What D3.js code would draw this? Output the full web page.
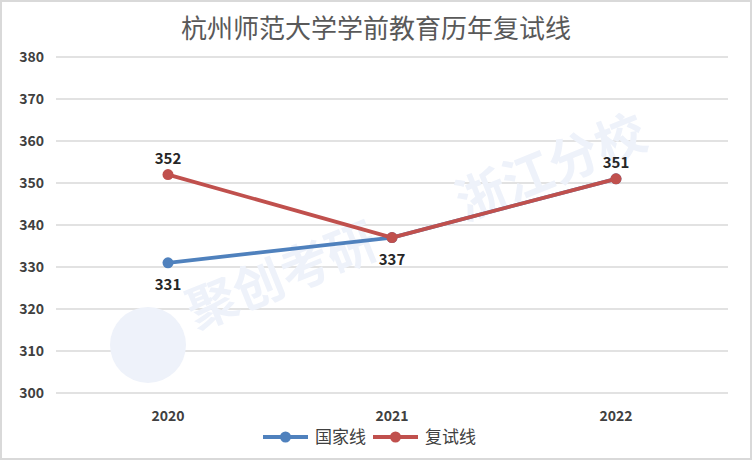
<!DOCTYPE html>
<html>
<head>
<meta charset="utf-8">
<script src="https://cdn.jsdelivr.net/npm/d3@7"></script>
<style>
  body { margin: 0; background: #fff; }
  svg { display: block; }
</style>
</head>
<body>
<svg id="chart" width="752" height="460"></svg>
<script>
// Data
const years = ["2020", "2021", "2022"];
const guojiaxian = [331, 337, 351];
const fushixian = [352, 337, 351];
const yTicks = [300, 310, 320, 330, 340, 350, 360, 370, 380];
const title = "杭州师范大学学前教育历年复试线";

const W = 752, H = 460;
const svg = d3.select("#chart");
const FONT = "'Noto Sans CJK SC', 'Noto Sans', sans-serif";

// outer frame
svg.append("rect")
  .attr("x", 1).attr("y", 1)
  .attr("width", W - 2).attr("height", H - 2)
  .attr("fill", "#fff")
  .attr("stroke", "#d9d9d9")
  .attr("stroke-width", 2);

const x = d3.scaleBand().domain(years).range([56, 728]);
const y = d3.scaleLinear().domain([300, 380]).range([393, 57]);

// grid
svg.append("g")
  .selectAll("line")
  .data(yTicks)
  .enter()
  .append("line")
    .attr("x1", 56).attr("x2", 728)
    .attr("y1", d => y(d)).attr("y2", d => y(d))
    .attr("stroke", "#d9d9d9")
    .attr("stroke-width", 1.3);

// watermark (faint, over the grid)
const wm = svg.append("g").attr("fill", "#eef2fa");
wm.append("circle").attr("cx", 148).attr("cy", 345).attr("r", 38);
const wmt = wm.append("g").attr("transform", "translate(196,330) rotate(-22)")
  .attr("font-family", FONT)
  .attr("font-weight", "bold")
  .attr("font-size", 50);
wmt.append("text").attr("x", 0).attr("y", 0).text("聚创考研");
wmt.append("text").attr("x", 290).attr("y", 0).text("浙江分校");

// y labels
svg.append("g")
  .selectAll("text")
  .data(yTicks)
  .enter()
  .append("text")
    .attr("x", 44)
    .attr("y", d => y(d))
    .attr("dy", "0.36em")
    .attr("text-anchor", "end")
    .attr("font-family", FONT)
    .attr("font-weight", "bold")
    .attr("font-size", 14)
    .attr("fill", "#404040")
    .text(d => d);

// x labels
svg.append("g")
  .selectAll("text")
  .data(years)
  .enter()
  .append("text")
    .attr("x", d => x(d) + x.bandwidth() / 2)
    .attr("y", 421)
    .attr("text-anchor", "middle")
    .attr("font-family", FONT)
    .attr("font-weight", "bold")
    .attr("font-size", 14)
    .attr("fill", "#404040")
    .text(d => d);

// title
svg.append("text")
  .attr("x", 376).attr("y", 38)
  .attr("text-anchor", "middle")
  .attr("font-family", FONT)
  .attr("font-size", 26)
  .attr("fill", "#595959")
  .text(title);

const series = [
  { name: "国家线", values: guojiaxian, color: "#4F81BD" },
  { name: "复试线", values: fushixian, color: "#C0504D" }
];

const line = d3.line()
  .x((d, i) => x(years[i]) + x.bandwidth() / 2)
  .y(d => y(d));

series.forEach(s => {
  svg.append("path")
    .attr("d", line(s.values))
    .attr("fill", "none")
    .attr("stroke", s.color)
    .attr("stroke-width", 3.8)
    .attr("stroke-linejoin", "round");
  svg.append("g")
    .selectAll("circle")
    .data(s.values)
    .enter()
    .append("circle")
      .attr("cx", (d, i) => x(years[i]) + x.bandwidth() / 2)
      .attr("cy", d => y(d))
      .attr("r", 5.5)
      .attr("fill", s.color);
});

// data labels: [series index, point index, above?]
const labels = [
  [0, 0, false], [1, 0, true], [1, 1, false], [1, 2, true]
];
svg.append("g")
  .selectAll("text")
  .data(labels)
  .enter()
  .append("text")
    .attr("x", d => x(years[d[1]]) + x.bandwidth() / 2)
    .attr("y", d => y(series[d[0]].values[d[1]]) + (d[2] ? -11 : 27))
    .attr("text-anchor", "middle")
    .attr("font-family", FONT)
    .attr("font-weight", "bold")
    .attr("font-size", 15)
    .attr("fill", "#262626")
    .text(d => series[d[0]].values[d[1]]);

// legend
const legend = svg.append("g");
const lx = [263, 373];
series.forEach((s, i) => {
  const g = legend.append("g").attr("transform", `translate(${lx[i]},437)`);
  g.append("line").attr("x1", 0).attr("x2", 45).attr("y1", 0).attr("y2", 0)
    .attr("stroke", s.color).attr("stroke-width", 3.8);
  g.append("circle").attr("cx", 22.5).attr("cy", 0).attr("r", 5.5).attr("fill", s.color);
  g.append("text").attr("x", 52).attr("y", 0).attr("dy", "0.36em")
    .attr("font-family", FONT)
    .attr("font-size", 17)
    .attr("fill", "#404040")
    .text(s.name);
});
</script>
</body>
</html>
